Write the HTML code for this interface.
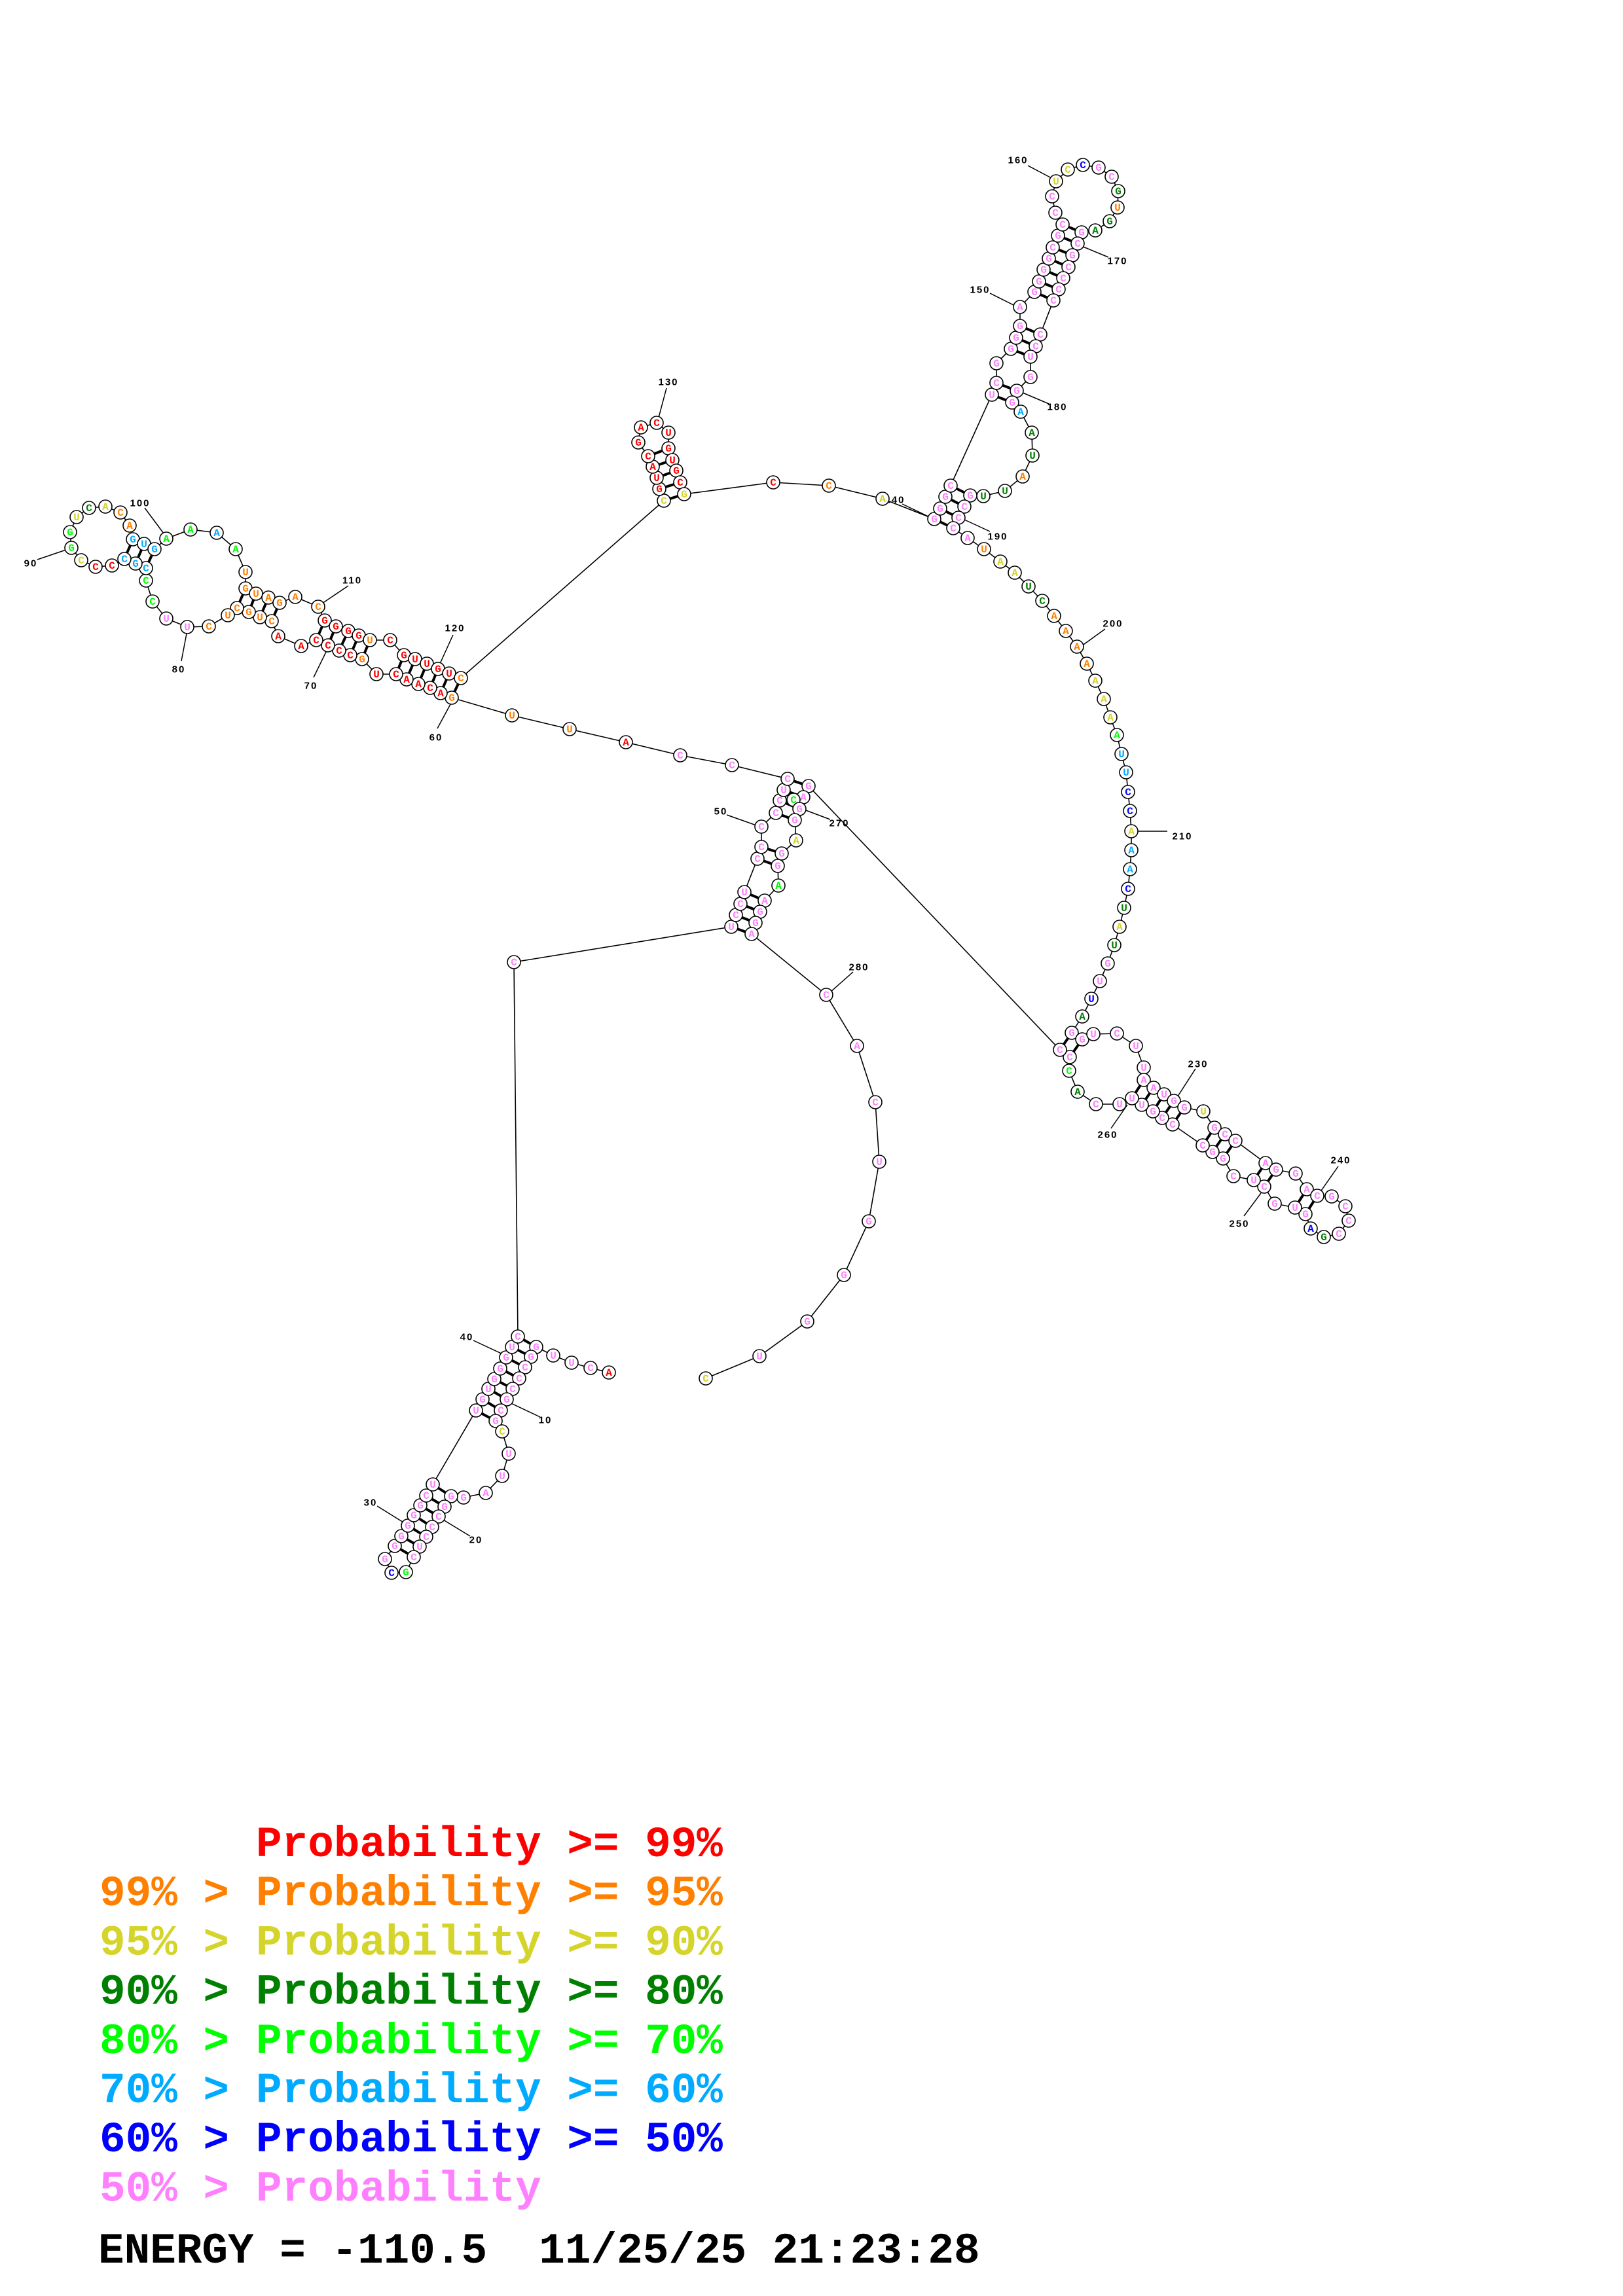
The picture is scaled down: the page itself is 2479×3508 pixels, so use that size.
<!DOCTYPE html>
<html><head><meta charset="utf-8"><style>
html,body{margin:0;padding:0;background:#fff}
svg{display:block}
.bb{fill:none;stroke:#000;stroke-width:1.6}
.bp{stroke:#000;stroke-width:4}
.nd circle{fill:#fff;stroke:#000;stroke-width:1.6}
.nd text{font-family:"Liberation Mono",monospace;font-weight:bold;font-size:16px;text-anchor:middle;dominant-baseline:central}
.p{fill:#ff80ff}.r{fill:#ff0000}.o{fill:#ff8000}.y{fill:#d4d42a}.g{fill:#008000}.l{fill:#00ff00}.b{fill:#00aaff}.B{fill:#0000ff}
.lb{font-family:"Liberation Sans",sans-serif;font-weight:bold;font-size:15px;fill:#000;text-anchor:middle;dominant-baseline:central;letter-spacing:2px}
.lg{font-family:"Liberation Mono",monospace;font-weight:bold;font-size:66px}
</style></head><body>
<svg width="2479" height="3508" viewBox="0 0 2479 3508" xmlns="http://www.w3.org/2000/svg">
<g id="main"></g>
</svg>
<script>
var N=[
[930,2097,'A','r'],[902,2090,'C','p'],[873,2082,'U','p'],[845,2071,'U','p'],[819,2058,'G','p'],[811,2073,'G','p'],[802,2089,'C','p'],[793,2106,'C','p'],[783,2122,'C','p'],[774,2138,'G','p'],
[765,2155,'C','p'],[757,2171,'G','p'],[767,2187,'C','y'],[777,2221,'U','p'],[767,2255,'U','p'],[742,2281,'A','p'],[708,2288,'G','p'],[689,2286,'G','p'],[679,2302,'G','p'],[670,2317,'C','p'],
[660,2333,'C','p'],[651,2348,'C','p'],[641,2363,'U','p'],[632,2379,'C','p'],[620,2402,'G','l'],[598,2403,'C','B'],[588,2382,'G','p'],[603,2362,'G','p'],[613,2347,'G','p'],[623,2331,'G','p'],
[632,2315,'G','p'],[642,2300,'G','p'],[651,2285,'C','p'],[661,2268,'U','p'],[727,2155,'U','p'],[737,2138,'G','p'],[746,2122,'U','p'],[755,2107,'G','p'],[764,2091,'G','p'],[773,2074,'G','p'],
[782,2058,'U','p'],[791,2042,'C','p'],[785,1470,'C','p'],[1117,1416,'U','p'],[1124,1398,'C','p'],[1131,1381,'C','p'],[1137,1363,'U','p'],[1157,1312,'C','p'],[1163,1294,'C','p'],[1163,1263,'C','p'],
[1185,1242,'C','p'],[1191,1223,'C','p'],[1197,1207,'U','p'],[1203,1190,'C','p'],[1118,1169,'C','p'],[1039,1154,'C','p'],[956,1134,'A','r'],[870,1114,'U','o'],[782,1093,'U','o'],[690,1066,'G','o'],
[673,1059,'A','r'],[657,1051,'C','r'],[639,1045,'A','r'],[621,1038,'A','r'],[605,1030,'C','r'],[575,1030,'U','r'],[553,1007,'G','o'],[535,1001,'C','r'],[518,994,'C','r'],[501,986,'C','r'],
[483,978,'C','r'],[460,987,'A','r'],[425,972,'A','r'],[415,949,'C','o'],[397,943,'U','o'],[380,935,'G','o'],[362,929,'C','o'],[348,940,'U','o'],[319,957,'C','o'],[286,958,'U','p'],
[254,945,'U','p'],[233,919,'C','l'],[223,887,'C','l'],[223,868,'C','b'],[207,861,'G','b'],[190,854,'C','b'],[171,864,'C','r'],[146,866,'C','r'],[124,856,'C','y'],[109,837,'G','l'],
[107,813,'G','l'],[117,790,'U','y'],[136,776,'C','g'],[161,774,'A','y'],[184,783,'C','o'],[198,803,'A','o'],[203,824,'G','b'],[220,831,'U','b'],[236,839,'G','b'],[254,823,'A','l'],
[291,809,'A','l'],[331,814,'A','b'],[360,839,'A','l'],[375,874,'U','o'],[375,899,'G','o'],[391,907,'U','o'],[410,913,'A','o'],[427,921,'G','o'],[451,912,'A','o'],[486,927,'C','o'],
[496,948,'G','r'],[513,957,'G','r'],[532,964,'G','r'],[548,971,'G','r'],[565,978,'U','o'],[596,978,'C','r'],[617,1001,'G','r'],[634,1007,'U','r'],[652,1014,'U','r'],[669,1022,'G','r'],
[686,1029,'U','r'],[704,1036,'C','o'],[1014,765,'C','y'],[1007,747,'G','r'],[1003,730,'U','r'],[997,713,'A','r'],[990,697,'C','r'],[975,676,'G','r'],[979,653,'A','r'],[1003,646,'C','r'],
[1021,661,'U','r'],[1021,685,'G','r'],[1027,703,'U','r'],[1033,719,'G','r'],[1039,737,'C','r'],[1045,755,'G','y'],[1181,737,'C','r'],[1266,742,'C','o'],[1348,762,'A','y'],[1427,793,'G','p'],
[1436,777,'G','p'],[1444,759,'G','p'],[1452,742,'C','p'],[1515,603,'U','p'],[1522,585,'C','p'],[1522,555,'G','p'],[1544,533,'G','p'],[1552,516,'G','p'],[1558,498,'G','p'],[1558,469,'A','p'],
[1580,446,'G','p'],[1587,430,'G','p'],[1594,412,'G','p'],[1602,395,'G','p'],[1608,378,'C','p'],[1616,360,'G','p'],[1623,343,'C','p'],[1612,325,'C','p'],[1607,300,'C','p'],[1613,277,'U','y'],
[1631,259,'C','y'],[1654,252,'C','B'],[1678,256,'G','p'],[1698,270,'C','p'],[1708,292,'G','g'],[1707,317,'U','o'],[1695,338,'G','g'],[1673,352,'A','g'],[1652,355,'G','p'],[1646,372,'C','p'],
[1638,390,'G','p'],[1632,408,'C','p'],[1624,425,'C','p'],[1617,442,'C','p'],[1609,459,'C','p'],[1589,511,'C','p'],[1582,529,'C','p'],[1574,545,'U','p'],[1574,576,'G','p'],[1553,597,'G','p'],
[1546,615,'G','p'],[1559,629,'A','b'],[1576,661,'A','g'],[1577,696,'U','g'],[1562,728,'A','o'],[1535,750,'U','g'],[1502,758,'U','g'],[1482,757,'G','p'],[1473,774,'C','p'],[1464,791,'C','p'],
[1456,807,'C','p'],[1478,822,'A','p'],[1503,839,'U','o'],[1528,858,'A','y'],[1550,875,'A','y'],[1571,896,'U','g'],[1592,918,'C','g'],[1610,941,'A','o'],[1628,964,'A','o'],[1645,988,'A','o'],
[1660,1014,'A','o'],[1673,1040,'A','y'],[1686,1068,'A','y'],[1696,1096,'A','y'],[1706,1123,'A','l'],[1713,1152,'U','b'],[1720,1180,'U','b'],[1723,1210,'C','B'],[1726,1239,'C','B'],[1728,1270,'A','y'],
[1728,1299,'A','b'],[1726,1328,'A','b'],[1723,1358,'C','B'],[1717,1387,'U','g'],[1710,1416,'A','y'],[1702,1444,'U','g'],[1692,1472,'G','p'],[1680,1499,'U','p'],[1667,1526,'U','B'],[1653,1553,'A','g'],
[1637,1578,'G','p'],[1653,1588,'G','p'],[1670,1580,'U','p'],[1706,1579,'C','p'],[1735,1598,'U','p'],[1747,1631,'U','p'],[1747,1650,'A','p'],[1762,1662,'A','p'],[1778,1672,'U','p'],[1793,1682,'G','p'],
[1809,1692,'G','p'],[1838,1698,'U','y'],[1855,1723,'G','p'],[1871,1733,'C','p'],[1887,1743,'C','p'],[1933,1777,'A','p'],[1949,1787,'G','p'],[1979,1793,'G','p'],[1996,1817,'A','p'],[2012,1827,'C','p'],
[2034,1828,'G','p'],[2055,1843,'C','p'],[2060,1865,'C','p'],[2045,1885,'C','p'],[2022,1890,'G','g'],[2002,1877,'A','B'],[1994,1855,'G','p'],[1978,1845,'U','p'],[1947,1839,'G','p'],[1931,1813,'C','p'],
[1915,1803,'U','p'],[1884,1797,'C','p'],[1868,1770,'G','p'],[1852,1760,'G','p'],[1837,1750,'C','p'],[1791,1718,'C','p'],[1775,1708,'C','p'],[1761,1698,'G','p'],[1744,1688,'U','p'],[1729,1678,'U','p'],
[1710,1687,'U','p'],[1674,1687,'C','p'],[1646,1668,'A','g'],[1633,1636,'C','l'],[1634,1615,'C','p'],[1619,1604,'C','p'],[1235,1201,'G','p'],[1227,1218,'A','p'],[1212,1222,'C','l'],[1221,1236,'G','p'],
[1214,1253,'G','p'],[1216,1284,'A','y'],[1194,1304,'G','p'],[1188,1323,'G','p'],[1189,1353,'A','l'],[1168,1376,'A','p'],[1161,1393,'G','p'],[1154,1410,'G','p'],[1148,1427,'A','p'],[1262,1520,'C','p'],
[1309,1598,'A','p'],[1337,1684,'C','p'],[1343,1775,'U','p'],[1327,1866,'G','p'],[1289,1948,'G','p'],[1233,2019,'G','p'],[1160,2072,'U','p'],[1078,2106,'C','y']];
var P=[[42,5],[41,6],[40,7],[39,8],[38,9],[37,10],[36,11],[35,12],[34,18],[33,19],[32,20],[31,21],[30,22],[29,23],[28,24],
[54,267],[53,268],[52,270],[51,271],[49,273],[48,274],[47,276],[46,277],[45,278],[44,279],
[122,60],[121,61],[120,62],[119,63],[118,64],[117,65],[115,67],[114,68],[113,69],[112,70],[111,71],[108,74],[107,75],[106,76],[105,77],[97,86],[98,85],[99,84],
[123,136],[124,135],[125,134],[126,133],[127,132],
[140,191],[141,190],[142,189],[143,188],[144,181],[145,180],[147,178],[148,177],[149,176],[151,175],[152,174],[153,173],[154,172],[155,171],[156,170],[157,169],
[221,266],[222,265],[227,260],[228,259],[229,258],[230,257],[231,256],[233,255],[234,254],[235,253],[236,251],[237,250],[239,248],[240,247]];
var L=[['10',833,2170,825,2165,772,2140],['20',727,2353,718,2347,672,2319],['30',566,2296,576,2301,621,2329],['40',713,2043,723,2048,770,2070],
['50',1101,1240,1110,1245,1155,1261],['60',666,1127,668,1113,688,1076],['70',475,1048,479,1035,499,994],['80',273,1023,277,1010,285,968],
['90',47,861,57,855,101,840],['100',214,769,221,776,250,815],['110',538,887,532,895,492,922],['120',695,960,692,970,672,1014],
['130',1021,584,1018,593,1006,638],['140',1367,764,1378,770,1420,790],['150',1497,443,1512,448,1550,467],['160',1555,245,1570,253,1606,272],
['170',1707,399,1693,393,1652,376],['180',1615,622,1602,617,1562,600],['190',1524,820,1512,812,1473,794],['200',1700,953,1688,961,1652,987],
['210',1806,1278,1783,1270,1738,1270],['230',1830,1626,1826,1633,1797,1678],['240',2048,1773,2044,1782,2016,1822],['250',1893,1870,1900,1858,1926,1823],
['260',1692,1734,1697,1724,1722,1688],['270',1282,1258,1268,1252,1228,1237],['280',1312,1478,1303,1485,1268,1516]];
var s='';
s+='<polyline class="bb" points="'+N.map(function(n){return n[0]+','+n[1]}).join(' ')+'"/>';
P.forEach(function(p){var a=N[p[0]-1],b=N[p[1]-1];s+='<line class="bp" x1="'+a[0]+'" y1="'+a[1]+'" x2="'+b[0]+'" y2="'+b[1]+'"/>';});
L.forEach(function(l){s+='<line stroke="#000" stroke-width="1.5" x1="'+l[3]+'" y1="'+l[4]+'" x2="'+l[5]+'" y2="'+l[6]+'"/><text class="lb" x="'+l[1]+'" y="'+l[2]+'">'+l[0]+'</text>';});
N.forEach(function(n){s+='<g class="nd"><circle cx="'+n[0]+'" cy="'+n[1]+'" r="10"/><text class="'+n[3]+'" x="'+n[0]+'" y="'+(n[1]+1)+'">'+n[2]+'</text></g>';});
var leg=[['','Probability >= 99%','#ff0000'],['99% > ','Probability >= 95%','#ff8000'],['95% > ','Probability >= 90%','#d4d42a'],['90% > ','Probability >= 80%','#008000'],['80% > ','Probability >= 70%','#00ff00'],['70% > ','Probability >= 60%','#00aaff'],['60% > ','Probability >= 50%','#0000ff'],['50% > ','Probability','#ff80ff']];
leg.forEach(function(r,i){var y=2836+75.2*i;if(r[0])s+='<text class="lg" x="152" y="'+y+'" fill="'+r[2]+'" xml:space="preserve">'+r[0].replace(/>/g,'&gt;')+'</text>';s+='<text class="lg" x="391" y="'+y+'" fill="'+r[2]+'" xml:space="preserve">'+r[1].replace(/>/g,'&gt;')+'</text>';});
s+='<text class="lg" x="150" y="3457" fill="#000" xml:space="preserve">ENERGY = -110.5  11/25/25 21:23:28</text>';
document.getElementById('main').innerHTML=s;
</script>
</body></html>
